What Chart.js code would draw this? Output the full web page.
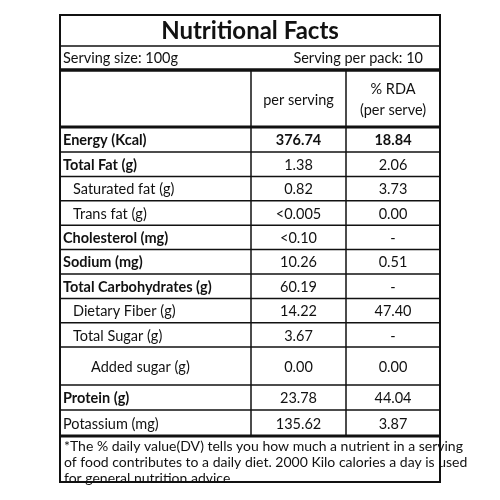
<!DOCTYPE html>
<html><head><meta charset="utf-8">
<script src="https://cdn.jsdelivr.net/npm/chart.js@4"></script>
<style>html,body{margin:0;padding:0;background:#fff}</style>
</head><body>
<canvas id="c" width="500" height="500"></canvas>
<script>
const title = "Nutritional Facts";
const servingSize = "Serving size: 100g";
const servingPack = "Serving per pack: 10";
const colHeaders = ["per serving", "% RDA|(per serve)"];
const nutrients = ["Energy (Kcal)","Total Fat (g)","Saturated fat (g)","Trans fat (g)","Cholesterol (mg)","Sodium (mg)","Total Carbohydrates (g)","Dietary Fiber (g)","Total Sugar (g)","Added sugar (g)","Protein (g)","Potassium (mg)"];
const perServing = ["376.74","1.38","0.82","<0.005","<0.10","10.26","60.19","14.22","3.67","0.00","23.78","135.62"];
const rda = ["18.84","2.06","3.73","0.00","-","0.51","-","47.40","-","0.00","44.04","3.87"];
const boldRows = [true,true,false,false,true,true,true,false,false,false,true,false];
const indents = [0,0,1,1,0,0,0,1,1,2,0,0];
const footnote = ["*The % daily value(DV) tells you how much a nutrient in a serving","of food contributes to a daily diet. 2000 Kilo calories a day is used","for general nutrition advice."];

const F = "Lato, 'Open Sans', sans-serif";
const rowTops = [127,152,176.4,200.8,225.2,249.6,274,298.4,322.8,347,385,410,436];
const tablePlugin = {
  id:'table',
  afterDraw(chart){
    const ctx = chart.ctx;
    const L=60,R=440,T=15,B=482,C1=251,C2=346;
    ctx.save();
    ctx.fillStyle='#fff';ctx.fillRect(0,0,500,500);
    ctx.strokeStyle='#111';ctx.fillStyle='#111';
    const line=(x1,y1,x2,y2,w)=>{ctx.lineWidth=w;ctx.beginPath();ctx.moveTo(x1,y1);ctx.lineTo(x2,y2);ctx.stroke();};
    ctx.lineWidth=2;ctx.strokeRect(L,T,R-L,B-T);
    line(L,46,R,46,1.5);
    line(L,70,R,70,3.5);
    line(L,127,R,127,3);
    for(let i=1;i<rowTops.length-1;i++) line(L,rowTops[i],R,rowTops[i],1.5);
    line(L,436,R,436,3);
    line(C1,70,C1,436,1.5);line(C2,70,C2,436,1.5);
    ctx.textBaseline='middle';
    ctx.textAlign='center';ctx.font="bold 24px "+F;
    ctx.fillText(title,(L+R)/2,31);
    ctx.font="14.5px "+F;
    ctx.textAlign='left';ctx.fillText(servingSize,63,58);
    ctx.textAlign='right';ctx.fillText(servingPack,423,58);
    ctx.textAlign='center';
    ctx.fillText(colHeaders[0],(C1+C2)/2,100);
    const h2=colHeaders[1].split('|');
    ctx.fillText(h2[0],(C2+R)/2,89);ctx.fillText(h2[1],(C2+R)/2,110);
    nutrients.forEach((n,i)=>{
      const y=(rowTops[i]+rowTops[i+1])/2+1;
      ctx.textAlign='left';
      ctx.font=(boldRows[i]?"bold ":"")+"14.5px "+F;
      ctx.fillText(n,63+[0,10,28][indents[i]],y);
      ctx.textAlign='center';
      ctx.font=(i===0?"bold ":"")+"14.5px "+F;
      ctx.fillText(perServing[i],(C1+C2)/2,y);
      ctx.fillText(rda[i],(C2+R)/2,y);
    });
    ctx.textAlign='left';ctx.font="14px "+F;
    footnote.forEach((t,i)=>ctx.fillText(t,64,446+i*16));
    ctx.restore();
  }
};
new Chart(document.getElementById('c'),{
  type:'bar',
  data:{labels:nutrients,datasets:[{data:perServing.map(v=>parseFloat(v.replace('<',''))||0),backgroundColor:'rgba(0,0,0,0)'}]},
  options:{responsive:false,animation:false,plugins:{legend:{display:false},tooltip:{enabled:false}},
    scales:{x:{display:false},y:{display:false}}},
  plugins:[tablePlugin]
});
</script>
</body></html>
